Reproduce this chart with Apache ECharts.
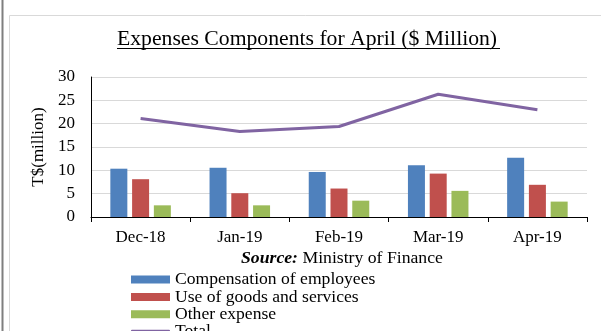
<!DOCTYPE html>
<html><head><meta charset="utf-8">
<script src="https://cdn.jsdelivr.net/npm/echarts@6/dist/echarts.min.js"></script>
<style>html,body{margin:0;padding:0;background:#fff}#c{width:601px;height:331px}</style>
</head><body><div id="c"></div>
<script>
const categories = ['Dec-18','Jan-19','Feb-19','Mar-19','Apr-19'];
const compensation = [10.35, 10.55, 9.65, 11.1, 12.7];
const goodsServices = [8.1, 5.1, 6.1, 9.3, 6.9];
const otherExpense = [2.5, 2.5, 3.5, 5.6, 3.3];
const total = [21.1, 18.3, 19.4, 26.3, 23.0];
const yTicks = [0, 5, 10, 15, 20, 25, 30];
const seriesNames = ['Compensation of employees', 'Use of goods and services', 'Other expense', 'Total'];

const serif = 'Liberation Serif';
const legendTops = [270.5, 287.9, 305.3, 322.7];
const legends = seriesNames.map((n, i) => ({
  orient: 'vertical', left: 131, top: legendTops[i], padding: 0,
  itemWidth: 39, itemHeight: i === 3 ? 4 : 8, itemGap: 0,
  textStyle: {fontFamily: serif, fontSize: 17.6, color: '#000'},
  data: [i === 3 ? {name: n, icon: 'roundRect'} : {name: n, icon: 'rect'}]
}));

const chart = echarts.init(document.getElementById('c'), null, {renderer:'canvas'});
chart.setOption({
  animation: false,
  backgroundColor: '#fff',
  title: {
    text: 'Expenses Components for April ($ Million)',
    left: 112, top: 23,
    textStyle: {fontFamily: serif, fontSize: 21.7, fontWeight: 'normal', color: '#000'}
  },
  grid: {left: 91, right: 14, top: 77, bottom: 114, containLabel: false},
  xAxis: {
    type: 'category', data: categories,
    axisLine: {lineStyle: {color: '#000', width: 1}},
    axisTick: {show: true, alignWithLabel: false, length: 5, lineStyle: {color: '#000'}},
    axisLabel: {fontFamily: serif, fontSize: 17, color: '#000', margin: 12}
  },
  yAxis: {
    type: 'value', min: yTicks[0], max: yTicks[yTicks.length-1], interval: 5,
    name: 'T$(million)', nameLocation: 'middle', nameGap: 41, nameRotate: 90,
    nameTextStyle: {fontFamily: serif, fontSize: 17, color: '#000'},
    axisLine: {show: true, lineStyle: {color: '#000'}},
    axisTick: {show: false},
    axisLabel: {fontFamily: serif, fontSize: 17, color: '#000', margin: 16},
    splitLine: {lineStyle: {color: '#d9d9d9', width: 1}}
  },
  legend: legends,
  graphic: [
    {type: 'line', shape: {x1: 2.5, y1: 0, x2: 2.5, y2: 331}, style: {stroke: '#7f7f7f', lineWidth: 2}},
    {type: 'polyline', shape: {points: [[9.5, 331], [9.5, 15.5], [601, 15.5]]}, style: {stroke: '#d9d9d9', lineWidth: 1, fill: null}},
    {type: 'line', shape: {x1: 117, y1: 48.5, x2: 500, y2: 48.5}, style: {stroke: '#000', lineWidth: 1}},
    {type: 'text', left: 241, top: 249, style: {
      text: '{b|Source:} Ministry of Finance',
      fontFamily: serif, fontSize: 17.7, fill: '#000',
      rich: {b: {fontFamily: serif, fontSize: 17.7, fontWeight: 'bold', fontStyle: 'italic', fill: '#000'}}
    }}
  ],
  series: [
    {name: seriesNames[0], type: 'bar', data: compensation, barWidth: 17, barGap: '28%', itemStyle: {color: '#4F81BD'}},
    {name: seriesNames[1], type: 'bar', data: goodsServices, barWidth: 17, barGap: '28%', itemStyle: {color: '#C0504D'}},
    {name: seriesNames[2], type: 'bar', data: otherExpense, barWidth: 17, barGap: '28%', itemStyle: {color: '#9BBB59'}},
    {name: seriesNames[3], type: 'line', data: total, symbol: 'none', lineStyle: {color: '#8064A2', width: 3}, itemStyle: {color: '#8064A2'}}
  ]
});
</script></body></html>
